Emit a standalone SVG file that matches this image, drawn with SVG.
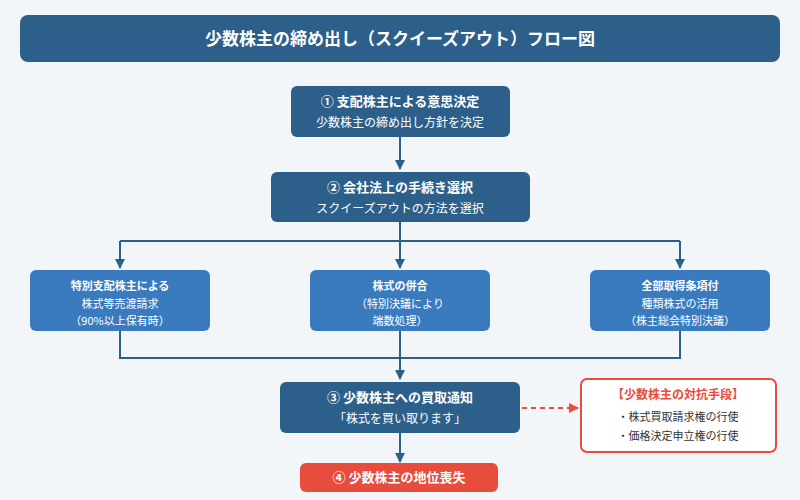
<svg xmlns="http://www.w3.org/2000/svg" width="800" height="500" viewBox="0 0 800 500">
<defs>
<marker id="ah" markerWidth="10" markerHeight="10" refX="9" refY="5" orient="auto" markerUnits="userSpaceOnUse"><path d="M0,0 L10,5 L0,10 z" fill="#2c5f8a"/></marker>
<marker id="ahr" markerWidth="10" markerHeight="10" refX="9" refY="5" orient="auto" markerUnits="userSpaceOnUse"><path d="M0,0 L10,5 L0,10 z" fill="#e74c3c"/></marker>
<style>
text{font-family:"Noto Sans CJK JP","Noto Sans CJK SC",sans-serif;text-anchor:middle}
.d{fill:#2c5f8a}.m{fill:#3a7bbf}
.t{fill:#fff;font-size:13px;font-weight:bold}
.s{fill:#fff;font-size:12px}
.x{fill:#fff;font-size:11px}
.c{stroke:#2c5f8a;stroke-width:2;fill:none}
</style>
</defs>
<rect width="800" height="500" fill="#f3f6f9"/>
<g id="title"><rect x="20" y="15" width="760" height="47" rx="8" class="d"/><text x="400" y="45" fill="#fff" font-size="17" font-weight="bold">少数株主の締め出し（スクイーズアウト）フロー図</text></g>
<g id="connectors">
<path class="c" d="M400,137 V169" marker-end="url(#ah)"/>
<path class="c" d="M400,222 V241 M120,241 H680"/>
<path class="c" d="M120,241 V268" marker-end="url(#ah)"/>
<path class="c" d="M400,241 V268" marker-end="url(#ah)"/>
<path class="c" d="M680,241 V268" marker-end="url(#ah)"/>
<path class="c" d="M120,331 V358 H680 V331 M400,331 V358"/>
<path class="c" d="M400,358 V379" marker-end="url(#ah)"/>
<path class="c" d="M400,433 V462" marker-end="url(#ah)"/>
<path d="M522,408 H578" stroke="#e74c3c" stroke-width="2" stroke-dasharray="5,4" fill="none" marker-end="url(#ahr)"/>
</g>
<g id="step1"><rect x="291" y="86" width="219" height="51" rx="6" class="d"/><text x="400" y="106" class="t">① 支配株主による意思決定</text><text x="400" y="127" class="s">少数株主の締め出し方針を決定</text></g>
<g id="step2"><rect x="271" y="172" width="259" height="50" rx="6" class="d"/><text x="400" y="192" class="t">② 会社法上の手続き選択</text><text x="400" y="213" class="s">スクイーズアウトの方法を選択</text></g>
<g id="m1"><rect x="30" y="270" width="180" height="61" rx="6" class="m"/><text x="120" y="290" class="x" font-weight="bold">特別支配株主による</text><text x="120" y="308" class="x">株式等売渡請求</text><text x="120" y="325" class="x" font-size="10">（90%以上保有時）</text></g>
<g id="m2"><rect x="310" y="270" width="180" height="61" rx="6" class="m"/><text x="400" y="290" class="x" font-weight="bold">株式の併合</text><text x="400" y="308" class="x">（特別決議により</text><text x="400" y="325" class="x">端数処理）</text></g>
<g id="m3"><rect x="590" y="270" width="180" height="61" rx="6" class="m"/><text x="680" y="290" class="x" font-weight="bold">全部取得条項付</text><text x="680" y="308" class="x">種類株式の活用</text><text x="680" y="325" class="x" font-size="10">（株主総会特別決議）</text></g>
<g id="step3"><rect x="280" y="382" width="240" height="51" rx="6" class="d"/><text x="400" y="402" class="t">③ 少数株主への買取通知</text><text x="400" y="423" class="s">「株式を買い取ります」</text></g>
<g id="counter"><rect x="581" y="379" width="195" height="73" rx="6" fill="#fff" stroke="#e74c3c" stroke-width="2"/><text x="678" y="399" fill="#e74c3c" font-size="12" font-weight="bold">【少数株主の対抗手段】</text><text x="678" y="421" fill="#333" font-size="11">・株式買取請求権の行使</text><text x="678" y="440" fill="#333" font-size="11">・価格決定申立権の行使</text></g>
<g id="step4"><rect x="300" y="463" width="198" height="29" rx="6" fill="#e74c3c"/><text x="399" y="482" class="t">④ 少数株主の地位喪失</text></g>
</svg>
